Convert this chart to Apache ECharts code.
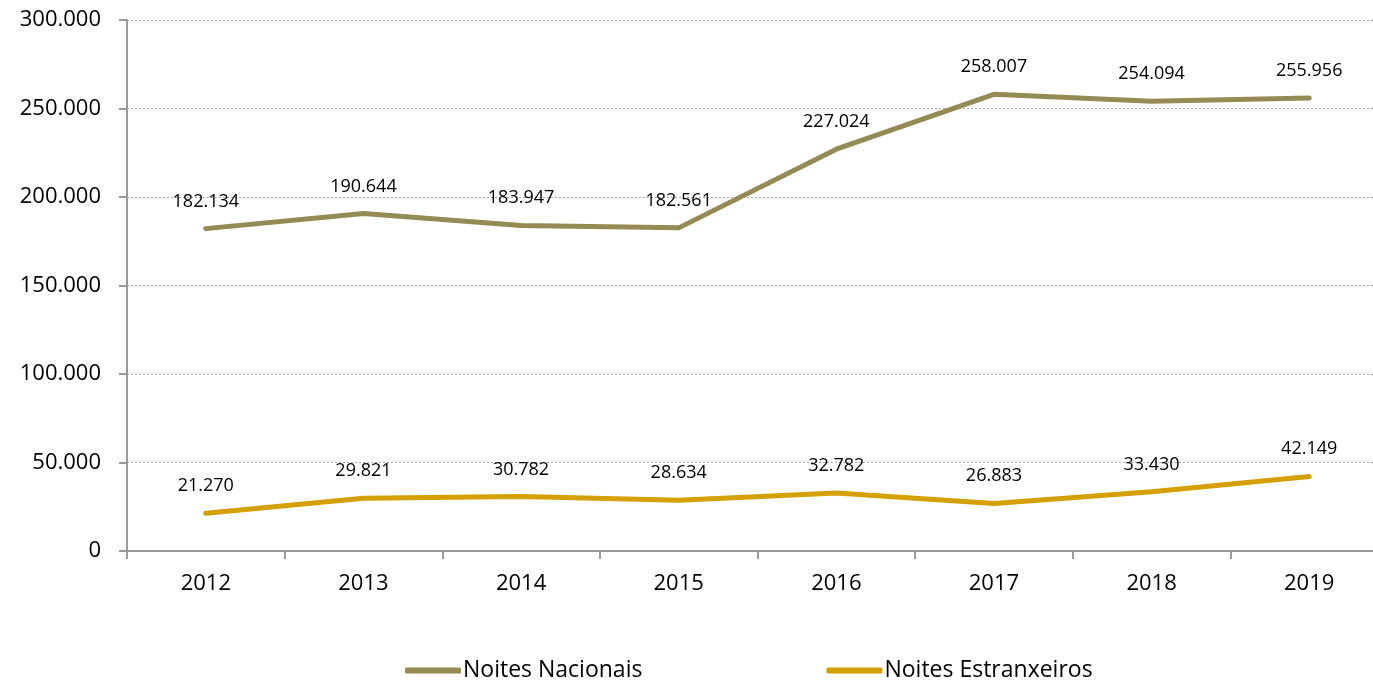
<!DOCTYPE html>
<html>
<head>
<meta charset="utf-8">
<script src="https://cdn.jsdelivr.net/npm/echarts@6/dist/echarts.min.js"></script>
<style>
  html, body { margin: 0; padding: 0; background: #ffffff; }
  #chart { width: 1373px; height: 680px; }
</style>
</head>
<body>
<div id="chart"></div>
<script>
// Noites por ano
const years = ['2012', '2013', '2014', '2015', '2016', '2017', '2018', '2019'];
const noitesNacionais = [182134, 190644, 183947, 182561, 227024, 258007, 254094, 255956];
const noitesEstranxeiros = [21270, 29821, 30782, 28634, 32782, 26883, 33430, 42149];
const seriesNames = ['Noites Nacionais', 'Noites Estranxeiros'];

const FONT = '"Open Sans", "Noto Sans", sans-serif';
const COL_NAC = '#948A54';
const COL_EST = '#D4A000';

// 12345 -> "12.345"
function fmt(v) {
  return String(Math.round(v)).replace(/\B(?=(\d{3})+(?!\d))/g, '.');
}

const chart = echarts.init(document.getElementById('chart'), null, { renderer: 'canvas' });

function lineSeries(name, data, color) {
  return {
    name: name,
    type: 'line',
    data: data,
    symbol: 'circle',
    symbolSize: 0.1,
    showSymbol: true,
    smooth: false,
    lineStyle: { color: color, width: 5, cap: 'round', join: 'round' },
    itemStyle: { color: color },
    label: {
      show: true,
      position: 'top',
      distance: 18,
      color: '#000000',
      fontFamily: FONT,
      fontSize: 18,
      formatter: p => fmt(p.value)
    },
    emphasis: { disabled: true },
    animation: false
  };
}

chart.setOption({
  backgroundColor: '#ffffff',
  animation: false,
  grid: {
    left: 127,
    top: 20,
    width: 1261,
    height: 531,
    containLabel: false,
    outerBoundsMode: 'none'
  },
  legend: {
    data: seriesNames.map(n => ({ name: n, icon: 'roundRect' })),
    left: 400,
    top: 654,
    itemWidth: 56,
    itemHeight: 6,
    itemGap: 184,
    textStyle: { fontFamily: FONT, fontSize: 23, color: '#000000', padding: [0, 0, 0, -3] },
    selectedMode: false
  },
  xAxis: {
    type: 'category',
    data: years,
    boundaryGap: true,
    axisLine: { show: true, lineStyle: { color: '#9a9a9a', width: 2 } },
    axisTick: { show: true, alignWithLabel: false, length: 8, lineStyle: { color: '#9a9a9a', width: 2 } },
    axisLabel: { color: '#000000', fontFamily: FONT, fontSize: 22, margin: 22 },
    splitLine: { show: false }
  },
  yAxis: {
    type: 'value',
    min: 0,
    max: 300000,
    interval: 50000,
    axisLine: { show: true, lineStyle: { color: '#9a9a9a', width: 2 } },
    axisTick: { show: true, length: 8, lineStyle: { color: '#9a9a9a', width: 2 } },
    axisLabel: {
      color: '#000000', fontFamily: FONT, fontSize: 22, margin: 26,
      formatter: v => fmt(v)
    },
    splitLine: { show: true, lineStyle: { color: '#a6a6a6', width: 1, type: [2, 2] } }
  },
  series: [
    lineSeries(seriesNames[0], noitesNacionais, COL_NAC),
    lineSeries(seriesNames[1], noitesEstranxeiros, COL_EST)
  ]
});
</script>
</body>
</html>
